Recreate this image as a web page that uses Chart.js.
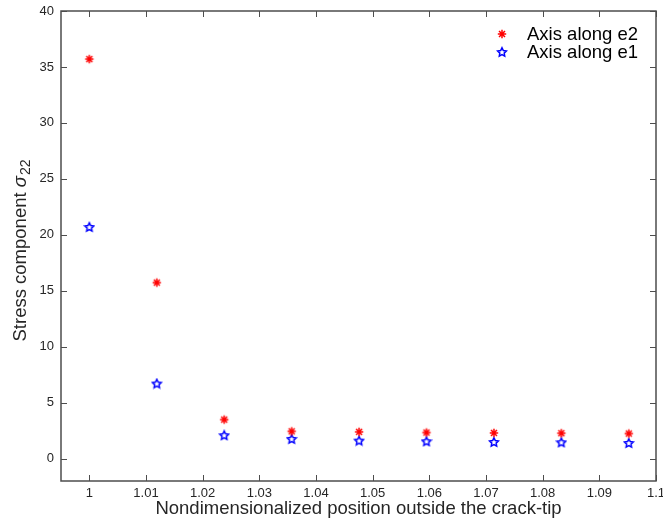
<!DOCTYPE html>
<html lang="en">
<head>
<meta charset="UTF-8">
<title>Stress component</title>
<script src="https://cdn.jsdelivr.net/npm/chart.js@4.4.1/dist/chart.umd.min.js"></script>
<style>
    html, body { margin: 0; padding: 0; background: #fff; }
    #wrap { width: 663px; height: 523px; }
</style>
</head>
<body>
<div id="wrap"><canvas id="chart"></canvas></div>
<script>
    // data
    var positions = [1, 1.0119, 1.0238, 1.0357, 1.0476, 1.0595, 1.0714, 1.0833, 1.0952];
    var alongE2 = [35.7, 15.73, 3.49, 2.44, 2.39, 2.33, 2.3, 2.27, 2.24];
    var alongE1 = [20.7, 6.71, 2.09, 1.76, 1.61, 1.55, 1.49, 1.46, 1.4];
    var xTicks = [1, 1.01, 1.02, 1.03, 1.04, 1.05, 1.06, 1.07, 1.08, 1.09, 1.1];
    var xTickLabels = ['1', '1.01', '1.02', '1.03', '1.04', '1.05', '1.06', '1.07', '1.08', '1.09', '1.1'];
    var yTicks = [0, 5, 10, 15, 20, 25, 30, 35, 40];

    var FONT = '"Liberation Sans", Arial, Helvetica, sans-serif';
    var TEXT = '#262626';
    var AXIS = '#4d4d4d';

    // marker images
    function asteriskMarker() {
        var c = document.createElement('canvas');
        c.width = 12; c.height = 12;
        var g = c.getContext('2d');
        g.strokeStyle = '#ff0000';
        g.lineWidth = 1.5;
        for (var i = 0; i < 4; i++) {
            var a = i * Math.PI / 4;
            g.beginPath();
            g.moveTo(6 - 4.2 * Math.cos(a), 6 - 4.2 * Math.sin(a));
            g.lineTo(6 + 4.2 * Math.cos(a), 6 + 4.2 * Math.sin(a));
            g.stroke();
        }
        g.fillStyle = '#ff0000';
        g.beginPath();
        g.arc(6, 6, 1.8, 0, 2 * Math.PI);
        g.fill();
        return c;
    }
    function pentagramMarker() {
        var c = document.createElement('canvas');
        c.width = 12; c.height = 12;
        var g = c.getContext('2d');
        g.strokeStyle = '#0000ff';
        g.lineWidth = 1.5;
        g.beginPath();
        for (var i = 0; i < 10; i++) {
            var r = (i % 2 == 0) ? 4.6 : 2.3;
            var a = -Math.PI / 2 + i * Math.PI / 5;
            var px = 6 + r * Math.cos(a), py = 6.4 + r * Math.sin(a);
            if (i == 0) g.moveTo(px, py); else g.lineTo(px, py);
        }
        g.closePath();
        g.stroke();
        return c;
    }
    var redMark = asteriskMarker();
    var blueMark = pentagramMarker();

    function toPoints(xs, ys) {
        return xs.map(function (x, i) { return { x: x, y: ys[i] }; });
    }

    // box, inward ticks, titles and legend
    var decorations = {
        id: 'decorations',
        afterDraw: function (chart) {
            var ctx = chart.ctx;
            var a = chart.chartArea;
            var xs = chart.scales.x, ys = chart.scales.y;
            ctx.save();
            ctx.strokeStyle = AXIS;
            ctx.lineWidth = 1.5;
            ctx.strokeRect(a.left, a.top, a.right - a.left, a.bottom - a.top);
            ctx.lineWidth = 1;
            ctx.beginPath();
            xTicks.forEach(function (v) {
                var px = Math.round(xs.getPixelForValue(v)) + 0.5;
                ctx.moveTo(px, a.bottom); ctx.lineTo(px, a.bottom - 6);
                ctx.moveTo(px, a.top); ctx.lineTo(px, a.top + 6);
            });
            yTicks.forEach(function (v) {
                var py = Math.round(ys.getPixelForValue(v)) + 0.5;
                ctx.moveTo(a.left, py); ctx.lineTo(a.left + 6, py);
                ctx.moveTo(a.right, py); ctx.lineTo(a.right - 6, py);
            });
            ctx.stroke();

            // x title
            ctx.fillStyle = TEXT;
            ctx.font = '18.5px ' + FONT;
            ctx.textAlign = 'center';
            ctx.textBaseline = 'middle';
            ctx.fillText('Nondimensionalized position outside the crack-tip', (a.left + a.right) / 2, 509);

            // y title with subscript
            var main = 'Stress component ';
            ctx.font = '18.5px ' + FONT;
            var w1 = ctx.measureText(main).width;
            ctx.font = 'italic 18.5px ' + FONT;
            var w2 = ctx.measureText('\u03c3').width;
            ctx.font = '14px ' + FONT;
            var w3 = ctx.measureText('22').width;
            var total = w1 + w2 + w3;
            ctx.translate(20, 251);
            ctx.rotate(-Math.PI / 2);
            ctx.textAlign = 'left';
            ctx.textBaseline = 'alphabetic';
            var sx = -total / 2;
            ctx.font = '18.5px ' + FONT;
            ctx.fillText(main, sx, 6);
            ctx.font = 'italic 18.5px ' + FONT;
            ctx.fillText('\u03c3', sx + w1, 6);
            ctx.font = '14px ' + FONT;
            ctx.fillText('22', sx + w1 + w2 + 1, 10);
            ctx.restore();

            // legend
            ctx.save();
            ctx.font = '18.5px ' + FONT;
            ctx.fillStyle = '#000';
            ctx.textAlign = 'left';
            ctx.textBaseline = 'middle';
            var rows = [[redMark, chart.data.datasets[0].label, 34], [blueMark, chart.data.datasets[1].label, 52]];
            rows.forEach(function (r) {
                ctx.drawImage(r[0], 502 - r[0].width / 2, r[2] - r[0].height / 2);
                ctx.fillText(r[1], 527, r[2] + 1);
            });
            ctx.restore();
        }
    };

    new Chart(document.getElementById('chart'), {
        type: 'scatter',
        data: {
            datasets: [{
                label: 'Axis along e2',
                data: toPoints(positions, alongE2),
                pointStyle: redMark,
                pointRadius: 5
            }, {
                label: 'Axis along e1',
                data: toPoints(positions, alongE1),
                pointStyle: blueMark,
                pointRadius: 5
            }]
        },
        options: {
            responsive: true,
            maintainAspectRatio: false,
            animation: false,
            layout: { padding: { top: 11, right: 7, left: 0, bottom: 0 } },
            plugins: {
                legend: { display: false },
                tooltip: { enabled: false }
            },
            scales: {
                x: {
                    type: 'linear',
                    min: 0.995,
                    max: 1.1,
                    afterFit: function (s) {
                        s.height = 42;
                        s.paddingLeft = 0; s.paddingRight = 0;
                    },
                    afterBuildTicks: function (s) {
                        s.ticks = xTicks.map(function (v) { return { value: v }; });
                    },
                    ticks: {
                        padding: 5,
                        color: TEXT,
                        font: { family: FONT, size: 13 },
                        maxRotation: 0,
                        autoSkip: false,
                        callback: function (v) {
                            var i = xTicks.indexOf(v);
                            return i >= 0 ? xTickLabels[i] : '';
                        }
                    },
                    grid: { drawOnChartArea: false, drawTicks: false },
                    border: { display: false }
                },
                y: {
                    type: 'linear',
                    min: -2,
                    max: 40,
                    afterFit: function (s) {
                        s.width = 61;
                        s.paddingTop = 0; s.paddingBottom = 0;
                    },
                    afterBuildTicks: function (s) {
                        s.ticks = yTicks.map(function (v) { return { value: v }; });
                    },
                    ticks: {
                        padding: 7,
                        color: TEXT,
                        font: { family: FONT, size: 13 },
                        autoSkip: false
                    },
                    grid: { drawOnChartArea: false, drawTicks: false },
                    border: { display: false }
                }
            }
        },
        plugins: [decorations]
    });
</script>
</body>
</html>
